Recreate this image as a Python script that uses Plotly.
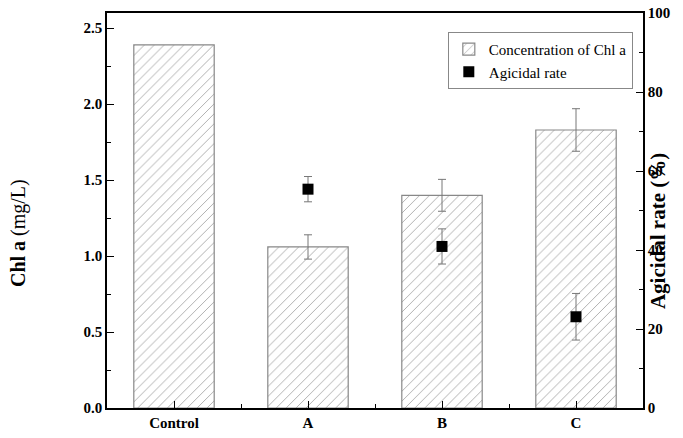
import plotly.graph_objects as go

categories = ["Control", "A", "B", "C"]
chl_a = [2.39, 1.06, 1.40, 1.83]
err_x = ["A", "B", "C"]
chl_a_err = [0.08, 0.105, 0.14]
agicidal_x = ["A", "B", "C"]
agicidal_rate = [55.4, 40.9, 23.1]
agicidal_err = [3.2, 4.45, 5.9]

xpos = {c: i for i, c in enumerate(categories)}

FONT = "Liberation Serif"

fig = go.Figure()
fig.add_trace(go.Bar(
    x=[xpos[c] for c in categories], y=chl_a, width=0.6,
    name="Concentration of Chl a",
    marker=dict(color="white", line=dict(color="#888888", width=1.2),
                pattern=dict(shape="/", fgcolor="#555555", bgcolor="white",
                             size=7, solidity=0.13)),
))
fig.add_trace(go.Scatter(
    x=[xpos[c] for c in err_x], y=[chl_a[xpos[c]] for c in err_x],
    mode="markers", showlegend=False, hoverinfo="skip",
    marker=dict(size=1, opacity=0),
    error_y=dict(type="data", array=chl_a_err, color="#777777",
                 thickness=1, width=4),
))
fig.add_trace(go.Scatter(
    x=[xpos[c] for c in agicidal_x], y=agicidal_rate, yaxis="y2",
    mode="markers", name="Agicidal rate",
    marker=dict(symbol="square", size=11, color="black"),
    error_y=dict(type="data", array=agicidal_err, color="#777777",
                 thickness=1, width=4),
))

tickfont = dict(family=FONT, size=15, color="black", weight="bold")
minor_style = dict(ticks="inside", ticklen=4, tickcolor="black", tickwidth=1.2)
axis_style = dict(ticks="inside", ticklen=7, tickwidth=1.2, tickcolor="black",
                  showline=True, linecolor="black", linewidth=1.5,
                  showgrid=False, zeroline=False, tickfont=tickfont,
                  automargin=False, ticklabeloverflow="allow")

fig.update_layout(
    width=683, height=438,
    margin=dict(l=107, r=40, t=13, b=30),
    font=dict(family=FONT, color="black"),
    paper_bgcolor="white", plot_bgcolor="white",
    showlegend=True,
    legend=dict(x=0.981, y=0.952, xanchor="right", yanchor="top",
                bordercolor="#888888", borderwidth=1, bgcolor="white",
                font=dict(family=FONT, size=15, color="black"),
                tracegroupgap=0, itemwidth=30),
    xaxis=dict(range=[-0.5, 3.5], tickvals=list(range(len(categories))),
               ticktext=categories, mirror=True,
               minor=dict(tickvals=[0.5, 1.5, 2.5], **minor_style),
               **axis_style),
    yaxis=dict(range=[0, 2.6], tickvals=[0, 0.5, 1.0, 1.5, 2.0, 2.5],
               ticktext=["0.0", "0.5", "1.0", "1.5", "2.0", "2.5"],
               minor=dict(dtick=0.25, tick0=0, **minor_style),
               **axis_style),
    yaxis2=dict(range=[0, 100], overlaying="y", side="right",
                tickvals=[0, 20, 40, 60, 80, 100],
                minor=dict(dtick=10, tick0=0, **minor_style),
                **axis_style),
    annotations=[
        dict(text="<b>Chl a</b> (mg/L)", xref="paper", yref="paper",
             x=-0.166, y=0.443, xanchor="center", yanchor="middle",
             textangle=-90, showarrow=False,
             font=dict(family=FONT, size=20, color="black")),
        dict(text="<b>Agicidal rate (%)</b>", xref="paper", yref="paper",
             x=1.028, y=0.448, xanchor="center", yanchor="middle",
             textangle=-90, showarrow=False,
             font=dict(family=FONT, size=21, color="black")),
    ],
)

fig.write_html("out.html", config={"displayModeBar": False},
               post_script="document.body.style.margin='0';")
